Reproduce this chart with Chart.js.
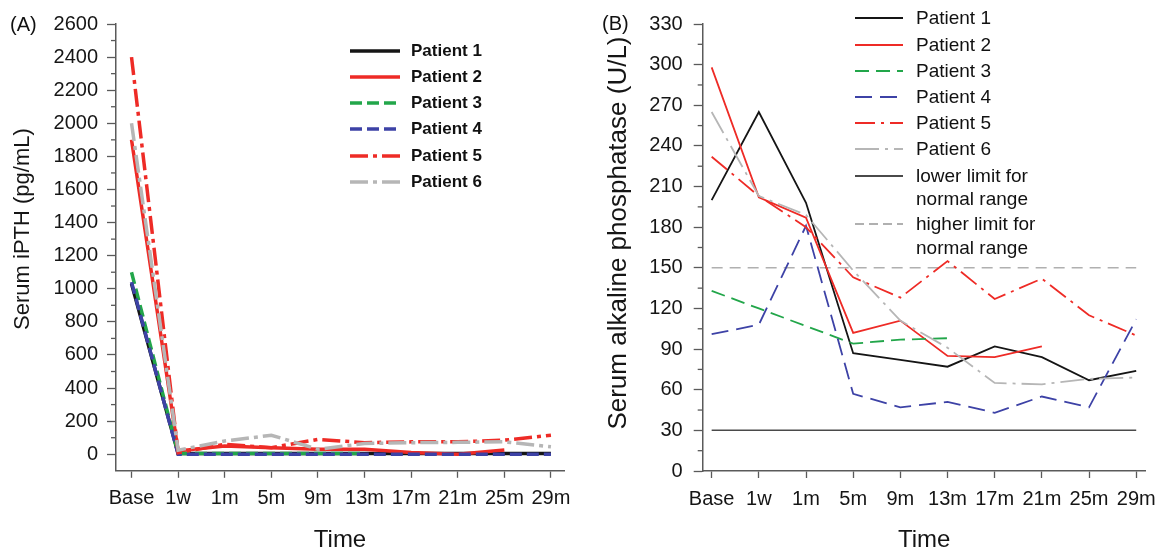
<!DOCTYPE html>
<html><head><meta charset="utf-8">
<script src="https://cdn.jsdelivr.net/npm/chart.js@4.4.1/dist/chart.umd.min.js"></script>
<style>
html,body{margin:0;padding:0;background:#fff;}
body{width:1165px;height:553px;overflow:hidden;position:relative;font-family:"Liberation Sans",Arial,sans-serif;color:#111;}
#wa{position:absolute;left:0;top:0;width:585px;height:553px}
#wb{position:absolute;left:585px;top:0;width:580px;height:553px}
.panel{position:absolute;font-size:20px;line-height:24px;color:#111}
.row{position:absolute;white-space:nowrap;color:#111}
.row svg{position:absolute;left:0}
.row span{position:absolute;white-space:nowrap}
</style></head><body>
<div id="wa"><canvas id="ca" width="585" height="553"></canvas></div>
<div id="wb"><canvas id="cb" width="580" height="553"></canvas></div>
<div class="panel" style="left:10px;top:12px">(A)</div>
<div class="panel" style="left:602px;top:11px">(B)</div>
<div id="legA"></div>
<div id="legB"></div>
<script>
// ---------- data ----------
const categories = ['Base','1w','1m','5m','9m','13m','17m','21m','25m','29m'];
const patientNames = ['Patient 1','Patient 2','Patient 3','Patient 4','Patient 5','Patient 6'];

// Panel A: serum iPTH (pg/mL)
const pthP1 = [1030, 5, 5, 5, 5, 5, 5, 5, 5, 5];
const pthP2 = [1900, 20, 50, 40, 30, 30, 10, 0, 25, null];
const pthP3 = [1100, 5, 5, 5, 5, 5, null, null, null, null];
const pthP4 = [1040, 0, 0, 0, 0, 0, 0, 0, 0, 0];
const pthP5 = [2400, 10, 60, 40, 90, 70, 75, 75, 85, 115];
const pthP6 = [2000, 25, 80, 115, 30, 65, 70, 72, 75, 45];
const pthTicks = [0, 200, 400, 600, 800, 1000, 1200, 1400, 1600, 1800, 2000, 2200, 2400, 2600];

// Panel B: serum alkaline phosphatase (U/L)
const alpP1 = [200, 265, 198, 87, 82, 77, 92, 84, 67, 74];
const alpP2 = [298, 202, 187, 102, 111, 85, 84, 92, null, null];
const alpP3 = [133, 120, 107, 94, 97, 98, null, null, null, null];
const alpP4 = [101, 108, 181, 57, 47, 51, 43, 55, 47, 112];
const alpP5 = [232, 203, 180, 143, 128, 155, 127, 142, 115, 100];
const alpP6 = [265, 203, 189, 148, 111, 91, 65, 64, 68, 69];
const alpLower = [30, 30, 30, 30, 30, 30, 30, 30, 30, 30];
const alpUpper = [150, 150, 150, 150, 150, 150, 150, 150, 150, 150];
const alpTicks = [0, 30, 60, 90, 120, 150, 180, 210, 240, 270, 300, 330];
const limitNames = [['lower limit for','normal range'], ['higher limit for','normal range']];

// ---------- styles ----------
const FONT = "'Liberation Sans', Arial, Helvetica, sans-serif";
const AXIS = '#5a5a5a';
const colors = ['#151515', '#ee2b26', '#22a64a', '#3d42a6', '#ee2b26', '#b6b6b6'];
const dashA = [[], [], [12,5], [12,5], [18,5,4,5], [18,5,4,5]];
const dashB = [[], [], [14,7], [17,8], [20,6,3,6], [24,6,3,6]];
const limitColors = ['#4a4a4a', '#b0b0b0'];
const limitDash = [[], [11,7]];
const limitLegendDash = [[], [9,5]];

const toXY = arr => arr.map((v, i) => ({x: i, y: v}));

const minorTicks = {
  id: 'minorTicks',
  afterDraw(chart, args, opts) {
    const s = chart.scales.y, ctx = chart.ctx;
    ctx.save();
    ctx.strokeStyle = AXIS; ctx.lineWidth = 1.3;
    for (let v = opts.step / 2; v < s.max; v += opts.step) {
      const y = s.getPixelForValue(v);
      ctx.beginPath(); ctx.moveTo(s.right - opts.length, y); ctx.lineTo(s.right, y); ctx.stroke();
    }
    ctx.restore();
  }
};

function makeOptions(cfg) {
  return {
    responsive: false,
    animation: false,
    layout: {padding: {left: 0, top: cfg.top, right: cfg.right, bottom: 0}},
    plugins: {legend: {display: false}, tooltip: {enabled: false}, minorTicks: {step: cfg.minorStep, length: 5}},
    elements: {point: {radius: 0}, line: {tension: 0, borderCapStyle: 'butt', borderJoinStyle: 'miter'}},
    scales: {
      x: {
        type: 'linear', min: cfg.xmin, max: cfg.xmax,
        afterBuildTicks: s => { s.ticks = categories.map((_, i) => ({value: i})); },
        afterFit: s => { s.height = 553 - cfg.bottom; },
        grid: {display: true, drawOnChartArea: false, drawTicks: true, tickLength: 7, tickColor: AXIS, tickWidth: 1.3},
        border: {display: true, color: AXIS, width: 1.5},
        ticks: {autoSkip: false, maxRotation: 0, minRotation: 0, padding: 9, color: '#151515',
                font: {family: FONT, size: 20}, callback: v => categories[v]},
        title: {display: true, text: 'Time', color: '#151515', font: {family: FONT, size: 24, lineHeight: 1}, padding: {top: 0, bottom: 1}}
      },
      y: {
        type: 'linear', min: cfg.ymin, max: cfg.ymax,
        afterBuildTicks: s => { s.ticks = cfg.yTicks.map(v => ({value: v})); },
        afterFit: s => { s.width = cfg.left; },
        grid: {display: true, drawOnChartArea: false, drawTicks: true, tickLength: 9, tickColor: AXIS, tickWidth: 1.3},
        border: {display: true, color: AXIS, width: 1.5},
        ticks: {padding: cfg.yPad, color: '#151515', font: {family: FONT, size: 20}, callback: v => String(v)},
        title: {display: true, text: cfg.yTitle, color: '#151515', font: {family: FONT, size: cfg.yTitleSize, lineHeight: 1}, padding: {top: cfg.yTitlePad, bottom: 0}}
      }
    }
  };
}

const pthSeries = [pthP1, pthP2, pthP3, pthP4, pthP5, pthP6];
const alpSeries = [alpP1, alpP2, alpP3, alpP4, alpP5, alpP6];

new Chart(document.getElementById('ca'), {
  type: 'line',
  data: {datasets: pthSeries.map((s, i) => ({
    label: patientNames[i], data: toXY(s), borderColor: colors[i], borderDash: dashA[i],
    borderWidth: 3.5, fill: false, order: 6 - i, spanGaps: false
  }))},
  options: makeOptions({top: 24, right: 21, bottom: 470.8, left: 116, xmin: -0.333, xmax: 9.28,
    ymin: -100, ymax: 2600, yTicks: pthTicks, yPad: 9, minorStep: 200,
    yTitle: '      Serum iPTH (pg/mL)', yTitleSize: 22, yTitlePad: 12}),
  plugins: [minorTicks]
});

const limitSets = [alpLower, alpUpper].map((s, i) => ({
  label: limitNames[i].join(' '), data: toXY(s), borderColor: limitColors[i], borderDash: limitDash[i],
  borderWidth: 1.5, fill: false, order: 20 + i
}));
new Chart(document.getElementById('cb'), {
  type: 'line',
  data: {datasets: alpSeries.map((s, i) => ({
    label: patientNames[i], data: toXY(s), borderColor: colors[i], borderDash: dashB[i],
    borderWidth: 1.8, fill: false, order: 6 - i, spanGaps: false
  })).concat(limitSets)},
  options: makeOptions({top: 24, right: 15.7, bottom: 471, left: 117.7, xmin: -0.19, xmax: 9.2,
    ymin: 0, ymax: 330, yTicks: alpTicks, yPad: 11, minorStep: 30,
    yTitle: '    Serum alkaline phosphatase (U/L)', yTitleSize: 26, yTitlePad: 21}),
  plugins: [minorTicks]
});

// ---------- legends (HTML) ----------
function buildLegend(el, items, o) {
  items.forEach(it => {
    const row = document.createElement('div');
    row.className = 'row';
    row.style.left = o.x + 'px';
    row.style.top = (it.y - o.lh / 2) + 'px';
    row.style.height = o.lh + 'px';
    row.style.font = o.font;
    const dash = it.dash.length ? `stroke-dasharray="${it.dash.join(' ')}"` : '';
    row.innerHTML = `<svg width="${o.len}" height="10" style="top:${o.lh / 2 - 5}px"><line x1="0" y1="5" x2="${o.len}" y2="5" stroke="${it.color}" stroke-width="${o.w}" ${dash}/></svg>` +
      (Array.isArray(it.text) ? it.text : [it.text]).map((t, k) =>
        `<span style="left:${o.tx}px;top:${k * o.gap}px;line-height:${o.lh}px">${t}</span>`).join('');
    el.appendChild(row);
  });
}
const legAy = [50.7, 76.9, 103.1, 129.3, 155.5, 181.7];
buildLegend(document.getElementById('legA'),
  patientNames.map((n, i) => ({text: n, color: colors[i], dash: dashA[i], y: legAy[i]})),
  {x: 350, len: 50, tx: 61, lh: 24, w: 3.5, gap: 24, font: `bold 17px ${FONT}`});

const legBy = [18.3, 44.5, 70.7, 96.9, 123.1, 149.3, 175.7, 224];
buildLegend(document.getElementById('legB'),
  patientNames.map((n, i) => ({text: n, color: colors[i], dash: dashB[i], y: legBy[i]}))
    .concat(limitNames.map((n, i) => ({text: n, color: limitColors[i], dash: limitLegendDash[i], y: legBy[6 + i]}))),
  {x: 855, len: 48, tx: 61, lh: 24, w: 1.8, gap: 23.8, font: `19px ${FONT}`});
</script>
</body></html>
